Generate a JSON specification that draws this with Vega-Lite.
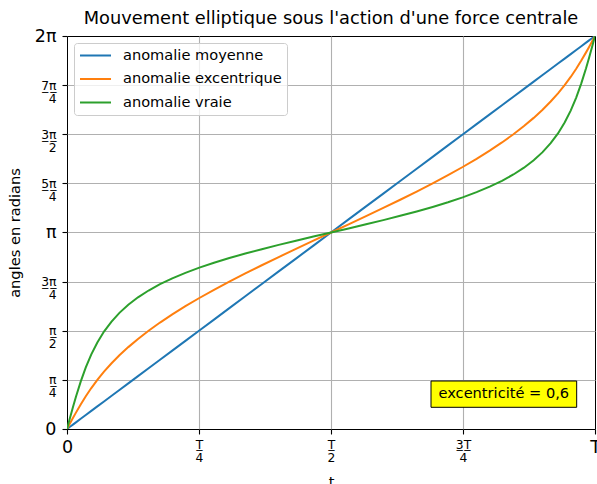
{
  "$schema": "https://vega.github.io/schema/vega-lite/v6.json",
  "width": 528,
  "height": 393,
  "autosize": {"type": "none"},
  "padding": {"left": 67, "top": 36, "right": 2, "bottom": 55},
  "config": {
    "font": "DejaVu Sans",
    "view": {"stroke": "black", "strokeWidth": 1},
    "axis": {
      "domain": false,
      "labelFont": "DejaVu Sans",
      "labelColor": "black",
      "titleFont": "DejaVu Sans",
      "titleColor": "black",
      "titleFontWeight": "normal",
      "titleFontSize": 14.6,
      "tickColor": "black",
      "tickSize": 5,
      "tickWidth": 1.1,
      "gridWidth": 1.1
    },
    "legend": {
      "orient": "top-left",
      "offset": 7,
      "fillColor": "rgba(255,255,255,0.8)",
      "strokeColor": "#cccccc",
      "cornerRadius": 3,
      "padding": 5,
      "labelFont": "DejaVu Sans",
      "labelFontSize": 14.6,
      "labelColor": "black",
      "symbolType": "stroke",
      "symbolSize": 961,
      "symbolStrokeWidth": 2,
      "clipHeight": 15,
      "rowPadding": 7.5,
      "labelOffset": 11
    }
  },
  "title": {
    "text": "Mouvement elliptique sous l'action d'une force centrale",
    "font": "DejaVu Sans",
    "fontSize": 17.8,
    "fontWeight": "normal",
    "color": "black",
    "anchor": "middle",
    "frame": "group",
    "offset": -1
  },
  "layer": [
    {
      "data": {
        "values": [
          {"t": 0, "moyenne": 0, "excentrique": 0, "vraie": 0},
          {"t": 0.002779, "moyenne": 0.017462, "excentrique": 0.043633, "vraie": 0.087224},
          {"t": 0.005566, "moyenne": 0.034972, "excentrique": 0.087266, "vraie": 0.1742},
          {"t": 0.008369, "moyenne": 0.052584, "excentrique": 0.1309, "vraie": 0.260678},
          {"t": 0.011196, "moyenne": 0.070344, "excentrique": 0.174533, "vraie": 0.346446},
          {"t": 0.016951, "moyenne": 0.106508, "excentrique": 0.261799, "vraie": 0.514922},
          {"t": 0.025956, "moyenne": 0.163089, "excentrique": 0.392699, "vraie": 0.757262},
          {"t": 0.035587, "moyenne": 0.223599, "excentrique": 0.523599, "vraie": 0.983904},
          {"t": 0.046034, "moyenne": 0.289241, "excentrique": 0.654498, "vraie": 1.19286},
          {"t": 0.057476, "moyenne": 0.361134, "excentrique": 0.785398, "vraie": 1.38367},
          {"t": 0.070074, "moyenne": 0.440286, "excentrique": 0.916298, "vraie": 1.557205},
          {"t": 0.083968, "moyenne": 0.527583, "excentrique": 1.047198, "vraie": 1.714144},
          {"t": 0.099276, "moyenne": 0.623769, "excentrique": 1.178097, "vraie": 1.856763},
          {"t": 0.116094, "moyenne": 0.729442, "excentrique": 1.308997, "vraie": 1.986574},
          {"t": 0.13449, "moyenne": 0.84503, "excentrique": 1.439897, "vraie": 2.105238},
          {"t": 0.154507, "moyenne": 0.970796, "excentrique": 1.570796, "vraie": 2.214297},
          {"t": 0.176157, "moyenne": 1.106829, "excentrique": 1.701696, "vraie": 2.315104},
          {"t": 0.199427, "moyenne": 1.253041, "excentrique": 1.832596, "vraie": 2.408904},
          {"t": 0.224275, "moyenne": 1.409167, "excentrique": 1.963495, "vraie": 2.49673},
          {"t": 0.250634, "moyenne": 1.57478, "excentrique": 2.094395, "vraie": 2.579522},
          {"t": 0.278407, "moyenne": 1.749283, "excentrique": 2.225295, "vraie": 2.657958},
          {"t": 0.307476, "moyenne": 1.93193, "excentrique": 2.356194, "vraie": 2.733152},
          {"t": 0.3377, "moyenne": 2.121837, "excentrique": 2.487094, "vraie": 2.805342},
          {"t": 0.36892, "moyenne": 2.317994, "excentrique": 2.617994, "vraie": 2.875229},
          {"t": 0.400956, "moyenne": 2.519284, "excentrique": 2.748894, "vraie": 2.943332},
          {"t": 0.433618, "moyenne": 2.724502, "excentrique": 2.879793, "vraie": 3.01013},
          {"t": 0.466702, "moyenne": 2.932377, "excentrique": 3.010693, "vraie": 3.076072},
          {"t": 0.5, "moyenne": 3.141593, "excentrique": 3.141593, "vraie": 3.141593},
          {"t": 0.533298, "moyenne": 3.350808, "excentrique": 3.272492, "vraie": 3.207113},
          {"t": 0.566382, "moyenne": 3.558683, "excentrique": 3.403392, "vraie": 3.273055},
          {"t": 0.599044, "moyenne": 3.763901, "excentrique": 3.534291, "vraie": 3.339853},
          {"t": 0.63108, "moyenne": 3.965191, "excentrique": 3.665191, "vraie": 3.407956},
          {"t": 0.6623, "moyenne": 4.161348, "excentrique": 3.796091, "vraie": 3.477843},
          {"t": 0.692524, "moyenne": 4.351255, "excentrique": 3.926991, "vraie": 3.550033},
          {"t": 0.721593, "moyenne": 4.533902, "excentrique": 4.05789, "vraie": 3.625227},
          {"t": 0.749366, "moyenne": 4.708405, "excentrique": 4.18879, "vraie": 3.703663},
          {"t": 0.775725, "moyenne": 4.874018, "excentrique": 4.31969, "vraie": 3.786455},
          {"t": 0.800573, "moyenne": 5.030144, "excentrique": 4.450589, "vraie": 3.874281},
          {"t": 0.823843, "moyenne": 5.176356, "excentrique": 4.581489, "vraie": 3.968081},
          {"t": 0.845493, "moyenne": 5.312389, "excentrique": 4.712389, "vraie": 4.068888},
          {"t": 0.86551, "moyenne": 5.438155, "excentrique": 4.843288, "vraie": 4.177947},
          {"t": 0.883906, "moyenne": 5.553743, "excentrique": 4.974188, "vraie": 4.296611},
          {"t": 0.900724, "moyenne": 5.659416, "excentrique": 5.105088, "vraie": 4.426422},
          {"t": 0.916032, "moyenne": 5.755602, "excentrique": 5.235987, "vraie": 4.569041},
          {"t": 0.929926, "moyenne": 5.842899, "excentrique": 5.366887, "vraie": 4.72598},
          {"t": 0.942524, "moyenne": 5.922051, "excentrique": 5.497787, "vraie": 4.899515},
          {"t": 0.953966, "moyenne": 5.993944, "excentrique": 5.628687, "vraie": 5.090325},
          {"t": 0.964413, "moyenne": 6.059586, "excentrique": 5.759586, "vraie": 5.299281},
          {"t": 0.974044, "moyenne": 6.120096, "excentrique": 5.890486, "vraie": 5.525923},
          {"t": 0.983049, "moyenne": 6.176677, "excentrique": 6.021386, "vraie": 5.768263},
          {"t": 0.988804, "moyenne": 6.212841, "excentrique": 6.108652, "vraie": 5.936739},
          {"t": 0.991631, "moyenne": 6.230601, "excentrique": 6.152285, "vraie": 6.022507},
          {"t": 0.994434, "moyenne": 6.248213, "excentrique": 6.195919, "vraie": 6.108985},
          {"t": 0.997221, "moyenne": 6.265723, "excentrique": 6.239552, "vraie": 6.195961},
          {"t": 1, "moyenne": 6.283185, "excentrique": 6.283185, "vraie": 6.283185}
        ]
      },
      "transform": [
        {"fold": ["moyenne", "excentrique", "vraie"], "as": ["serie", "angle"]}
      ],
      "mark": {"type": "line", "strokeWidth": 2, "clip": true},
      "encoding": {
        "x": {
          "field": "t",
          "type": "quantitative",
          "scale": {"domain": [0, 1], "nice": false, "zero": false},
          "axis": {
            "title": "t",
            "titleY": 45,
            "titleBaseline": "top",
            "values": [0, 0.25, 0.5, 0.75, 1],
            "labelExpr": "[ '0', ['T\u0332', '4'], ['T\u0332', '2'], ['3\u0332T\u0332', '4'], 'T' ][round(datum.value * 4)]",
            "labelFontSize": {"condition": {"test": "datum.value == 0 || datum.value == 1", "value": 17.5}, "value": 12.3},
            "labelLineHeight": 13,
            "labelBaseline": "top",
            "labelPadding": 4,
            "labelFlush": false,
            "labelOverlap": false,
            "gridColor": {"condition": {"test": "datum.value == 0 || datum.value == 1", "value": "transparent"}, "value": "#b0b0b0"}
          }
        },
        "y": {
          "field": "angle",
          "type": "quantitative",
          "scale": {"domain": [0, 6.283185], "nice": false, "zero": false},
          "axis": {
            "title": "angles en radians",
            "titleX": -52,
            "titleY": 196.5,
            "titleAngle": -90,
            "titleAlign": "center",
            "titleBaseline": "middle",
            "values": [0, 0.785398, 1.570796, 2.356194, 3.141593, 3.926991, 4.712389, 5.497787, 6.283185],
            "labelExpr": "[ '0', ['\u03c0\u0332', '4'], ['\u03c0\u0332', '2'], ['3\u0332\u03c0\u0332', '4'], '\u03c0', ['5\u0332\u03c0\u0332', '4'], ['3\u0332\u03c0\u0332', '2'], ['7\u0332\u03c0\u0332', '4'], '2\u03c0' ][round(datum.value / (PI / 4))]",
            "labelFontSize": {"condition": {"test": "round(datum.value / (PI / 4)) % 4 == 0", "value": 17.5}, "value": 12.3},
            "labelLineHeight": 13,
            "labelBaseline": "middle",
            "labelPadding": 6,
            "labelFlush": false,
            "labelOverlap": false,
            "gridColor": {"condition": {"test": "datum.value < 0.01 || datum.value > 6.28", "value": "transparent"}, "value": "#b0b0b0"}
          }
        },
        "color": {
          "field": "serie",
          "type": "nominal",
          "scale": {"domain": ["moyenne", "excentrique", "vraie"], "range": ["#1f77b4", "#ff7f0e", "#2ca02c"]},
          "legend": {"title": null, "labelExpr": "'anomalie ' + datum.label"}
        }
      }
    },
    {
      "data": {"values": [{"label": "excentricité = 0,6"}]},
      "mark": {"type": "rect", "fill": "#ffff00", "stroke": "black", "strokeWidth": 1},
      "encoding": {
        "x": {"datum": 0.6894, "type": "quantitative"},
        "x2": {"datum": 0.9653},
        "y": {"datum": 0.3469, "type": "quantitative"},
        "y2": {"datum": 0.7674}
      }
    },
    {
      "data": {"values": [{"label": "excentricité = 0,6"}]},
      "mark": {"type": "text", "font": "DejaVu Sans", "fontSize": 14.6, "color": "black", "align": "center", "baseline": "middle"},
      "encoding": {
        "x": {"datum": 0.8273, "type": "quantitative"},
        "y": {"datum": 0.5572, "type": "quantitative"},
        "text": {"field": "label"}
      }
    }
  ]
}
